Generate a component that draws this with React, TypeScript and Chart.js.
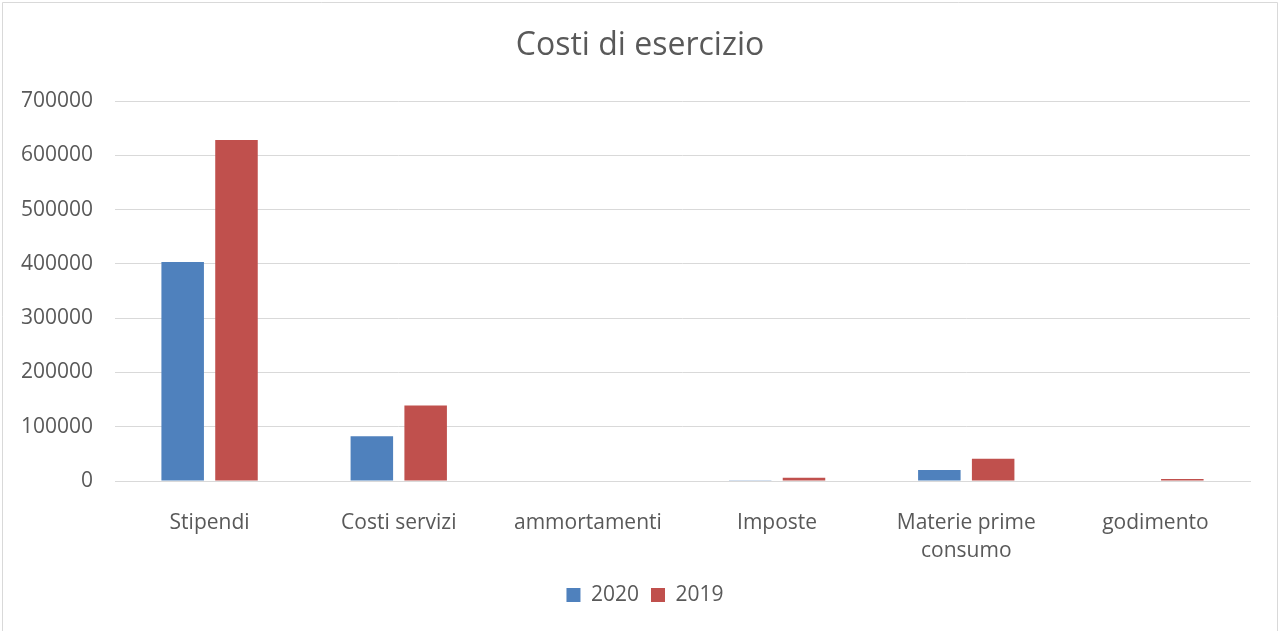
import React, { useEffect, useRef } from "react";
import { Chart, registerables } from "chart.js";

Chart.register(...registerables);

const categories: (string | string[])[] = [
  "Stipendi",
  "Costi servizi",
  "ammortamenti",
  "Imposte",
  ["Materie prime", "consumo"],
  "godimento",
];
const values2020 = [403500, 82500, 800, 1200, 20300, 0];
const values2019 = [628000, 139000, 1000, 6000, 41000, 3500];
const seriesNames = ["2020", "2019"];
const yTickMax = 700000;
const yTickStep = 100000;
const titleText = "Costi di esercizio";

const FONT = "'Open Sans', sans-serif";
const TEXT = "#595959";
const GRID = "#D9D9D9";

const borderPlugin = {
  id: "frame",
  afterLayout(chart: any) {
    // center title and legend on the full canvas width (as in the reference)
    if (chart.titleBlock) {
      chart.titleBlock.left += 15;
      chart.titleBlock.right += 15;
    }
    if (chart.legend) {
      chart.legend.left += 20;
      chart.legend.right += 20;
    }
  },
  beforeDraw(chart: any) {
    const { ctx, width, height } = chart;
    ctx.save();
    ctx.fillStyle = "#ffffff";
    ctx.fillRect(0, 0, width, height);
    ctx.strokeStyle = GRID;
    ctx.lineWidth = 1;
    ctx.beginPath();
    ctx.moveTo(2.5, height);
    ctx.lineTo(2.5, 2.5);
    ctx.lineTo(width - 2.5, 2.5);
    ctx.lineTo(width - 2.5, height);
    ctx.stroke();
    ctx.restore();
  },
};

export default function App() {
  const ref = useRef<HTMLCanvasElement | null>(null);

  useEffect(() => {
    document.body.style.margin = "0";
    if (!ref.current) return;
    const chart = new Chart(ref.current, {
      type: "bar",
      data: {
        labels: categories as any,
        datasets: [
          {
            label: seriesNames[0],
            data: values2020,
            backgroundColor: "#4F81BD",
            barPercentage: 0.79,
            categoryPercentage: 0.569,
          },
          {
            label: seriesNames[1],
            data: values2019,
            backgroundColor: "#C0504D",
            barPercentage: 0.79,
            categoryPercentage: 0.569,
          },
        ],
      },
      plugins: [borderPlugin],
      options: {
        animation: false,
        responsive: true,
        maintainAspectRatio: false,
        layout: { padding: { left: 0, right: 30, top: 0, bottom: 15.5 } },
        plugins: {
          title: {
            display: true,
            text: titleText,
            color: TEXT,
            font: { family: FONT, size: 32, weight: "normal" as any },
            padding: { top: 27, bottom: 35.6 },
          },
          legend: {
            position: "bottom",
            labels: {
              boxWidth: 14,
              boxHeight: 14,
              padding: 12,
              color: TEXT,
              font: { family: FONT, size: 21 },
            },
          },
          tooltip: { enabled: false },
        },
        scales: {
          x: {
            grid: { display: false },
            border: { display: true, color: GRID, width: 1 },
            ticks: {
              color: TEXT,
              font: { family: FONT, size: 21, lineHeight: 1.33 },
              padding: 20,
              maxRotation: 0,
              autoSkip: false,
            },
            afterFit(scale: any) {
              scale.height = 91.5;
            },
          },
          y: {
            min: 0,
            max: yTickMax,
            grid: { color: GRID, lineWidth: 1, drawTicks: false },
            border: { display: false },
            ticks: {
              stepSize: yTickStep,
              color: TEXT,
              font: { family: FONT, size: 21 },
              padding: 22,
              callback: (v: any) => String(v),
            },
            afterFit(scale: any) {
              scale.width = 115;
            },
          },
        },
      },
    });
    return () => chart.destroy();
  }, []);

  return (
    <div style={{ position: "absolute", left: 0, top: 0, width: 1280, height: 631 }}>
      <canvas ref={ref} />
    </div>
  );
}
